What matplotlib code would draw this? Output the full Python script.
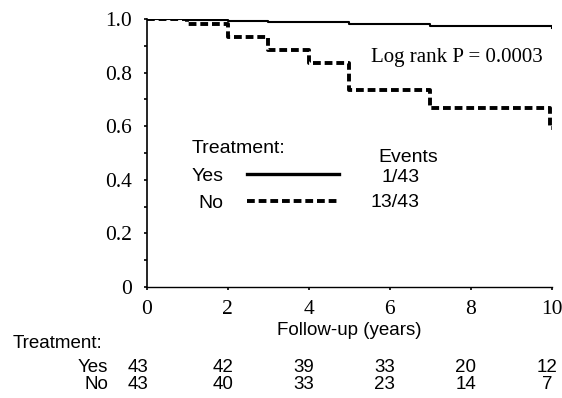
import matplotlib
matplotlib.use("Agg")
import matplotlib.pyplot as plt
from matplotlib.lines import Line2D
from matplotlib.transforms import offset_copy

# Data
yes_t = [0, 1, 2, 3, 5, 7, 10]
yes_s = [1.0, 0.997, 0.994, 0.989, 0.981, 0.972, 0.966]
no_t = [0, 1, 2, 3, 4, 5, 7, 9.95, 10]
no_s = [1.0, 0.981, 0.931, 0.885, 0.836, 0.734, 0.669, 0.595, 0.595]

xticks = [0, 2, 4, 6, 8, 10]
yticks = [0, 0.2, 0.4, 0.6, 0.8, 1.0]
ytick_labels = ["0", "0.2", "0.4", "0.6", "0.8", "1.0"]
groups = ["Yes", "No"]
events = ["1/43", "13/43"]
at_risk_yes = [43, 42, 39, 33, 20, 12]
at_risk_no = [43, 40, 33, 23, 14, 7]

SERIF = "Liberation Serif"
SANS = "Liberation Sans"

fig = plt.figure(figsize=(5.62, 3.98), dpi=100)
ax = fig.add_axes([0.2607, 0.2789, 0.7215, 0.6734])

ax.step(yes_t, yes_s, where="post", color="black", lw=1.5)
ax.step(no_t, no_s, where="post", color="black", lw=2.8,
        dashes=(2, 1), dash_capstyle="butt")

ax.set_xlim(0, 10)
ax.set_ylim(0, 1.0)
for s in ["top", "right"]:
    ax.spines[s].set_visible(False)
ax.spines["left"].set_linewidth(1.2)
ax.spines["bottom"].set_linewidth(1.0)

ax.set_xticks(xticks)
ax.set_xticklabels([str(v) for v in xticks], fontfamily=SERIF, fontsize=15.5)
ax.set_yticks(yticks)
ax.set_yticklabels(ytick_labels, fontfamily=SERIF, fontsize=15.5)
ax.set_yticks([0.1, 0.3, 0.5, 0.7, 0.9], minor=True)
ax.tick_params(axis="both", which="major", length=2.5, width=1.2, direction="out")
ax.tick_params(axis="y", which="minor", length=2.5, width=1.2)
ax.tick_params(axis="x", pad=7)
ax.tick_params(axis="y", pad=8)

ax.set_xlabel("Follow-up (years)", fontfamily=SANS, fontsize=13.5, labelpad=2)

ax.text(0.978, 0.858, "Log rank P = 0.0003", transform=ax.transAxes,
        ha="right", va="center", fontfamily=SERIF, fontsize=15)

# Legend
handles = [Line2D([], [], color="black", lw=2.4),
           Line2D([], [], color="black", lw=2.8, dashes=(2, 1),
                  dash_capstyle="butt")]
leg = ax.legend(handles, groups, title="Treatment:", loc="upper left",
                bbox_to_anchor=(0.068, 0.612), frameon=False, markerfirst=False,
                handlelength=4.75, handletextpad=1.2, labelspacing=0.5,
                prop={"family": SANS, "size": 14},
                title_fontproperties={"family": SANS, "size": 14})
leg._legend_box.align = "left"

ax.text(0.571, 0.485, "Events", transform=ax.transAxes, ha="left",
        va="center", fontfamily=SANS, fontsize=14)
for ev, yy in zip(events, [0.41, 0.315]):
    ax.text(0.674, yy, ev, transform=ax.transAxes, ha="right",
            va="center", fontfamily=SANS, fontsize=14)

# Number at risk table
fig.text(0.022, 0.138, "Treatment:", fontfamily=SANS, fontsize=13.5,
         ha="left", va="center")
rows = [at_risk_yes, at_risk_no]
ys = [0.076, 0.033]
blend = matplotlib.transforms.blended_transform_factory(ax.transData,
                                                        fig.transFigure)
for g, row, yy in zip(groups, rows, ys):
    fig.text(0.192, yy, g, fontfamily=SANS, fontsize=13.5, ha="right",
             va="center")
    for i, (xv, n) in enumerate(zip(xticks, row)):
        shift = -9 if i == 0 else -5
        tr = offset_copy(blend, fig=fig, x=shift, y=0, units="dots")
        fig.text(xv, yy, str(n), transform=tr, fontfamily=SANS,
                 fontsize=13.5, ha="center", va="center")

fig.savefig("out.png", dpi=100)
